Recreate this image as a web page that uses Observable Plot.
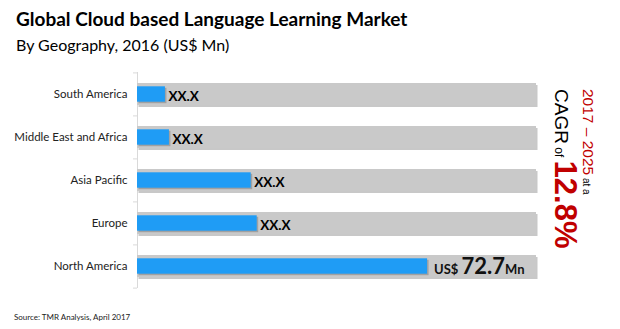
<!DOCTYPE html>
<html><head><meta charset="utf-8">
<script src="https://cdn.jsdelivr.net/npm/d3@7"></script>
<script src="https://cdn.jsdelivr.net/npm/@observablehq/plot@0.6"></script>
<style>
body{margin:0;background:#fff;}
#wrap{position:relative;width:620px;height:329px;overflow:hidden;font-family:Lato,"Open Sans",sans-serif;}
.t{position:absolute;white-space:nowrap;color:#000;}
</style></head><body>
<div id="wrap">
  <div class="t" id="title" style="left:16px;top:7px;font-size:19px;font-weight:bold;">Global Cloud based Language Learning Market</div>
  <div class="t" id="sub" style="left:16px;top:35px;font-size:16px;">By Geography, 2016 (US$ Mn)</div>
  <div class="t" id="src" style="left:14px;top:312px;font-size:8px;color:#222;">Source: TMR Analysis, April 2017</div>
</div>
<script>
const regions = ["South America","Middle East and Africa","Asia Pacific","Europe","North America"];
const values = [7.0, 8.0, 28.5, 30.0, 72.7];
const labels = ["XX.X","XX.X","XX.X","XX.X",""];
const fullScale = 100;
const cagrText = "12.8%";
const periodText = "2017 – 2025";

const data = regions.map((r,i)=>({region:r, value:values[i], label:labels[i], full:fullScale}));

const chart = Plot.plot({
  width:620, height:329,
  marginLeft:137, marginRight:84, marginTop:72, marginBottom:41,
  style:{fontFamily:"Lato, 'Open Sans', sans-serif", background:"transparent"},
  x:{domain:[0,100], axis:null},
  y:{domain:regions, paddingInner:0.5, paddingOuter:0.25, axis:null},
  marks:[
    Plot.ruleX([0],{stroke:"#d9d9d9"}),
    Plot.ruleY(regions,{y:d=>d, x1:-1, x2:0, dy:-21.6, stroke:"#d9d9d9"}),
    Plot.ruleY([regions[regions.length-1]],{y:d=>d, x1:-1, x2:0, dy:21.6, stroke:"#d9d9d9"}),
    Plot.barX(data,{y:"region", x1:0, x2:"full", fill:"#9a9a9a", fillOpacity:0.55, dx:1.5, dy:2}),
    Plot.barX(data,{y:"region", x1:0, x2:"full", fill:"#c9c9c9"}),
    Plot.barX(data,{y:"region", x1:0, x2:"value", fill:"#7a7a7a", fillOpacity:0.5, insetTop:3.3, insetBottom:3.3, dx:1.5, dy:1.5}),
    Plot.barX(data,{y:"region", x1:0, x2:"value", fill:"#1f9cf5", insetTop:3.3, insetBottom:3.3}),
    Plot.text(data,{y:"region", x:"value", text:"label", textAnchor:"start", dx:3, dy:2, fontSize:13.5, fontWeight:"bold", fill:"#000"}),
    Plot.text(regions,{y:d=>d, x:0, text:d=>d, textAnchor:"end", dx:-10, fontSize:11.5, fill:"#222"})
  ]
});
document.getElementById("wrap").prepend(chart);
chart.style.position="absolute"; chart.style.left="0"; chart.style.top="0";

// North America value label and CAGR callout, positioned via the chart's scales
const xs = chart.scale("x"), ys = chart.scale("y");
const svg = d3.select(chart);
const na = data[data.length-1];
const naY = ys.apply(na.region) + ys.bandwidth/2;
const naX = xs.apply(na.value);
const t = svg.append("text").attr("x", naX+7).attr("y", naY+8).attr("text-anchor","start")
  .attr("font-family","Lato, 'Open Sans', sans-serif").attr("fill","#111");
t.append("tspan").attr("font-size",13).attr("font-weight","bold").text("US$ ");
t.append("tspan").attr("font-size",22).attr("font-weight","bold").text(na.value.toFixed(1));
t.append("tspan").attr("font-size",13).attr("font-weight","bold").text("Mn");

const calloutX = xs.apply(100) + 19, calloutY = 89;
const c1 = svg.append("text").attr("transform",`translate(${calloutX},${calloutY}) rotate(90)`).attr("text-anchor","start")
  .attr("font-family","'Liberation Sans', Arial, sans-serif");
c1.append("tspan").attr("font-size",19).attr("fill","#000").text("CAGR");
c1.append("tspan").attr("font-size",12).attr("fill","#000").text(" of ");
c1.append("tspan").attr("font-size",31).attr("font-weight","bold").attr("fill","#c00000").text(cagrText);
const c2 = svg.append("text").attr("transform",`translate(${calloutX+28},${calloutY}) rotate(90)`).attr("text-anchor","start")
  .attr("font-family","'Liberation Sans', Arial, sans-serif");
c2.append("tspan").attr("font-size",15.5).attr("fill","#c00000").text(periodText);
c2.append("tspan").attr("font-size",10).attr("fill","#000").text(" at a");
</script>
</body></html>
